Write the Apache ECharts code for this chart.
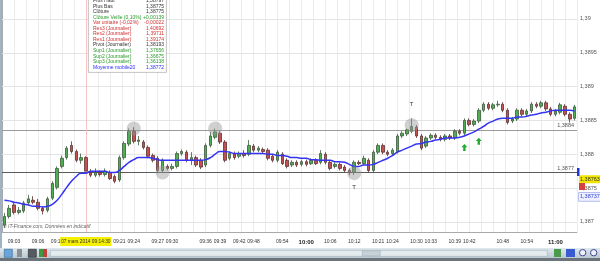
<!DOCTYPE html>
<html><head><meta charset="utf-8">
<script src="https://cdn.jsdelivr.net/npm/echarts@6/dist/echarts.min.js"></script>
<style>html,body{margin:0;padding:0;background:#fff;overflow:hidden}#c{width:600px;height:261px}</style>
</head><body><div id="c"></div><script>
const openP = [1.38695,1.38708,1.38725,1.38714,1.38716,1.38728,1.38732,1.38729,1.38720,1.38717,
1.38735,1.38751,1.38782,1.38795,1.38813,1.38804,1.38791,1.38795,1.38773,1.38769,
1.38773,1.38770,1.38773,1.38767,1.38762,1.38795,1.38815,1.38834,1.38819,1.38818,
1.38810,1.38798,1.38794,1.38776,1.38782,1.38779,1.38782,1.38801,1.38803,1.38791,
1.38795,1.38791,1.38784,1.38813,1.38825,1.38831,1.38818,1.38794,1.38801,1.38797,
1.38801,1.38800,1.38812,1.38806,1.38807,1.38806,1.38797,1.38791,1.38800,1.38791,
1.38784,1.38788,1.38785,1.38789,1.38786,1.38791,1.38788,1.38800,1.38788,1.38782,
1.38785,1.38781,1.38776,1.38773,1.38788,1.38786,1.38791,1.38776,1.38803,1.38813,
1.38803,1.38801,1.38804,1.38827,1.38830,1.38834,1.38840,1.38827,1.38812,1.38824,
1.38828,1.38825,1.38822,1.38827,1.38824,1.38834,1.38831,1.38850,1.38844,1.38849,
1.38865,1.38874,1.38868,1.38873,1.38874,1.38865,1.38849,1.38852,1.38865,1.38859,
1.38864,1.38874,1.38871,1.38876,1.38867,1.38859,1.38862,1.38871,1.38859,1.38853];
const closeP = [1.38708,1.38720,1.38714,1.38717,1.38728,1.38734,1.38729,1.38720,1.38716,1.38734,
1.38757,1.38779,1.38794,1.38809,1.38804,1.38791,1.38795,1.38775,1.38769,1.38773,
1.38770,1.38775,1.38764,1.38760,1.38795,1.38816,1.38834,1.38819,1.38821,1.38810,
1.38797,1.38791,1.38776,1.38791,1.38779,1.38782,1.38801,1.38804,1.38791,1.38795,
1.38784,1.38781,1.38813,1.38827,1.38833,1.38818,1.38791,1.38801,1.38795,1.38801,
1.38798,1.38813,1.38806,1.38809,1.38804,1.38794,1.38791,1.38803,1.38786,1.38782,
1.38788,1.38784,1.38789,1.38785,1.38791,1.38786,1.38801,1.38788,1.38779,1.38785,
1.38779,1.38776,1.38773,1.38788,1.38786,1.38794,1.38776,1.38803,1.38813,1.38803,
1.38800,1.38806,1.38827,1.38831,1.38836,1.38841,1.38827,1.38809,1.38824,1.38828,
1.38825,1.38822,1.38827,1.38824,1.38834,1.38831,1.38850,1.38844,1.38849,1.38865,
1.38874,1.38868,1.38873,1.38874,1.38865,1.38847,1.38852,1.38865,1.38859,1.38864,
1.38874,1.38871,1.38876,1.38867,1.38859,1.38864,1.38873,1.38859,1.38852,1.38870];
const lowP = [1.38691,1.38705,1.38711,1.38711,1.38713,1.38725,1.38726,1.38717,1.38711,1.38714,
1.38732,1.38748,1.38779,1.38792,1.38801,1.38788,1.38786,1.38775,1.38766,1.38766,
1.38767,1.38767,1.38762,1.38757,1.38759,1.38792,1.38812,1.38816,1.38813,1.38807,
1.38794,1.38788,1.38772,1.38773,1.38776,1.38776,1.38779,1.38798,1.38788,1.38784,
1.38781,1.38778,1.38781,1.38810,1.38822,1.38815,1.38788,1.38791,1.38792,1.38794,
1.38795,1.38797,1.38803,1.38803,1.38801,1.38791,1.38788,1.38788,1.38784,1.38779,
1.38781,1.38781,1.38782,1.38782,1.38784,1.38784,1.38785,1.38785,1.38776,1.38779,
1.38776,1.38773,1.38769,1.38769,1.38784,1.38784,1.38773,1.38773,1.38800,1.38800,
1.38797,1.38798,1.38801,1.38824,1.38827,1.38831,1.38824,1.38806,1.38809,1.38821,
1.38822,1.38819,1.38819,1.38821,1.38821,1.38828,1.38828,1.38841,1.38841,1.38846,
1.38862,1.38865,1.38865,1.38870,1.38862,1.38844,1.38846,1.38849,1.38856,1.38856,
1.38861,1.38868,1.38868,1.38864,1.38856,1.38856,1.38859,1.38856,1.38847,1.38850];
const highP = [1.38713,1.38725,1.38728,1.38722,1.38731,1.38740,1.38738,1.38734,1.38723,1.38737,
1.38760,1.38782,1.38798,1.38812,1.38819,1.38807,1.38801,1.38797,1.38778,1.38779,
1.38776,1.38779,1.38776,1.38770,1.38798,1.38819,1.38838,1.38840,1.38827,1.38821,
1.38813,1.38801,1.38797,1.38794,1.38785,1.38786,1.38804,1.38807,1.38806,1.38803,
1.38798,1.38794,1.38816,1.38833,1.38838,1.38834,1.38821,1.38804,1.38804,1.38804,
1.38806,1.38821,1.38815,1.38812,1.38810,1.38809,1.38800,1.38806,1.38803,1.38794,
1.38791,1.38791,1.38792,1.38792,1.38794,1.38794,1.38806,1.38803,1.38791,1.38788,
1.38788,1.38784,1.38779,1.38791,1.38791,1.38798,1.38794,1.38806,1.38816,1.38816,
1.38806,1.38809,1.38830,1.38834,1.38838,1.38853,1.38843,1.38830,1.38827,1.38831,
1.38831,1.38828,1.38830,1.38830,1.38837,1.38837,1.38853,1.38853,1.38852,1.38868,
1.38877,1.38877,1.38876,1.38879,1.38877,1.38868,1.38855,1.38868,1.38868,1.38867,
1.38877,1.38877,1.38879,1.38879,1.38870,1.38867,1.38876,1.38874,1.38862,1.38873];
const ma20 = [1.38732,1.38731,1.38729,1.38728,1.38726,1.38725,1.38723,1.38723,1.38722,1.38723,
1.38726,1.38732,1.38741,1.38751,1.38760,1.38767,1.38772,1.38772,1.38775,1.38775,
1.38775,1.38775,1.38773,1.38773,1.38776,1.38782,1.38788,1.38792,1.38795,1.38795,
1.38795,1.38794,1.38792,1.38791,1.38791,1.38791,1.38791,1.38791,1.38791,1.38791,
1.38791,1.38791,1.38792,1.38795,1.38800,1.38804,1.38804,1.38803,1.38801,1.38801,
1.38801,1.38801,1.38801,1.38801,1.38801,1.38800,1.38800,1.38798,1.38798,1.38797,
1.38795,1.38795,1.38794,1.38794,1.38792,1.38792,1.38791,1.38791,1.38791,1.38789,
1.38789,1.38788,1.38785,1.38782,1.38782,1.38784,1.38784,1.38785,1.38788,1.38791,
1.38794,1.38798,1.38803,1.38806,1.38809,1.38812,1.38815,1.38816,1.38818,1.38819,
1.38821,1.38822,1.38824,1.38824,1.38824,1.38825,1.38827,1.38830,1.38833,1.38837,
1.38841,1.38846,1.38849,1.38852,1.38853,1.38853,1.38853,1.38855,1.38855,1.38856,
1.38858,1.38859,1.38861,1.38862,1.38864,1.38865,1.38865,1.38865,1.38865,1.38864];

const tickIdx  = [2,7,11,24,27,32,35,42,45,49,52,58,63,68,73,78,81,86,89,94,97,104,109,115];
const tickText = ['09:03','09:06','09:12','09:21','09:24','09:27','09:30','09:36','09:39','09:42','09:48','09:54','10:00','10:06','10:12','10:21','10:24','10:30','10:33','10:39','10:42','10:48','10:54','11:00'];
const boldTicks = ['10:00','11:00'];

const yTickValues = [1.387,1.3875,1.388,1.3885,1.389,1.3895,1.39];
const yTickText   = ['1,387','1,3875','1,388','1,3885','1,389','1,3895','1,39'];

const levelValues = [1.38836,1.38773];
const levelText   = ['1,3884','1,3877'];
const levelColors = ['#9a9a9a','#5a5a5a'];

const tagValues = [1.38763,1.38737];
const tagText   = ['1,38763','1,38737'];

const cursorIdx = 17;
const cursorText = '07 mars 2014 09:14:30';

const circleIdx = [27,44,33,73,85];
const circleVal = [1.38838,1.38838,1.38773,1.38772,1.38843];
const tIdx = [85,73];
const tVal = [1.38873,1.38751];
const arrowIdx = [96,99];
const arrowVal = [1.38810,1.38819];

const legendLabels = ['Plus Haut','Plus Bas','Clôture','Clôture Veille (0,10%)','Var unitaire (-0,02%)','Res3 (Journalier)','Res2 (Journalier)','Res1 (Journalier)','Pivot (Journalier)','Sup1 (Journalier)','Sup2 (Journalier)','Sup3 (Journalier)','Moyenne mobile20'];
const legendValues = ['1,38797','1,38775','1,38775','+0,00139','-0,00022','1,40692','1,39711','1,39174','1,38193','1,37656','1,36675','1,36138','1,38772'];
const legendColors = ['#333','#333','#333','#2a9a2a','#d03030','#d03030','#d03030','#d03030','#333','#2a9a2a','#2a9a2a','#2a9a2a','#2a2aff'];

const FONT = 'Liberation Sans';
const categories = openP.map((_, i) => String(i));
const candles = openP.map((o, i) => [o, closeP[i], lowP[i], highP[i]]);

const markLineData = [];
yTickValues.forEach((v, i) => markLineData.push({
  yAxis: v, lineStyle: {color: '#e4e4e4', width: 1, type: 'solid'},
  label: {show: true, position: 'end', distance: 3, formatter: yTickText[i], color: '#555', fontSize: 5.5, fontFamily: FONT}
}));
levelValues.forEach((v, i) => markLineData.push({
  yAxis: v, lineStyle: {color: levelColors[i], width: 1.2, type: 'solid'},
  label: {show: true, position: 'insideEndTop', distance: [3, 1], formatter: levelText[i], color: '#555', fontSize: 5.5, fontFamily: FONT}
}));
markLineData.push({
  yAxis: tagValues[0], lineStyle: {color: 'rgba(0,0,0,0)', width: 1},
  label: {show: true, position: 'end', distance: 2, formatter: tagText[0], color: '#333', fontSize: 5.5, fontFamily: FONT, backgroundColor: '#f2e600', padding: [1, 1]}
});
markLineData.push({
  yAxis: tagValues[1], lineStyle: {color: 'rgba(0,0,0,0)', width: 1},
  label: {show: true, position: 'end', distance: 2, formatter: tagText[1], color: '#3344cc', fontSize: 5.5, fontFamily: FONT, backgroundColor: '#eef0ff', borderColor: '#8899ee', borderWidth: 0.6, padding: [1, 1]}
});
markLineData.push({
  xAxis: cursorIdx, lineStyle: {color: '#f6c4c4', width: 1, type: 'solid'},
  label: {show: true, position: 'start', distance: 5, formatter: cursorText, color: '#333', fontSize: 4.8, fontFamily: FONT, backgroundColor: '#f4f000', padding: [2, 1]}
});

const markPointData = [];
circleIdx.forEach((ix, i) => markPointData.push({
  coord: [ix, circleVal[i]], symbol: 'circle', symbolSize: 14,
  itemStyle: {color: 'rgba(150,150,150,0.45)'}, label: {show: false}
}));
tIdx.forEach((ix, i) => markPointData.push({
  coord: [ix, tVal[i]], symbol: 'circle', symbolSize: 1, itemStyle: {color: 'rgba(0,0,0,0)'},
  label: {show: true, formatter: 'T', position: 'inside', color: '#333', fontSize: 6, fontFamily: FONT}
}));
arrowIdx.forEach((ix, i) => markPointData.push({
  coord: [ix, arrowVal[i]], symbol: 'path://M5,0 L10,5 L7,5 L7,11 L3,11 L3,5 L0,5 Z', symbolSize: [6, 7],
  itemStyle: {color: '#22aa33'}, label: {show: false}
}));

const legendGraphic = [];
legendLabels.forEach((t, i) => {
  const y = 0.8 + 5.55 * i;
  legendGraphic.push({type: 'text', left: 93, top: y - 2.6, z: 101,
    style: {text: t, fill: legendColors[i], font: '5px "' + FONT + '"'}});
  legendGraphic.push({type: 'text', right: 600 - 164, top: y - 2.6, z: 101,
    style: {text: legendValues[i], fill: legendColors[i], font: '5px "' + FONT + '"', textAlign: 'right'}});
});

const chart = echarts.init(document.getElementById('c'), null, {renderer: 'canvas'});
chart.setOption({
  animation: false,
  backgroundColor: '#fff',
  grid: {left: 2, right: 23, top: 0, bottom: 29},
  xAxis: [{
    type: 'category', data: categories, boundaryGap: true,
    axisLine: {show: true, lineStyle: {color: '#aaa'}},
    axisTick: {show: false},
    splitLine: {show: false},
    axisLabel: {
      interval: (idx) => tickIdx.includes(idx),
      margin: 7, fontSize: 5, fontFamily: FONT, color: '#333',
      formatter: (v) => {
        const k = tickIdx.indexOf(Number(v));
        if (k < 0) return '';
        const t = tickText[k];
        return boldTicks.includes(t) ? '{b|' + t + '}' : t;
      },
      rich: {b: {fontWeight: 'bold', fontSize: 6, fontFamily: FONT, color: '#222'}}
    }
  }, {
    type: 'value', min: 0, max: 120, interval: 2.5, position: 'bottom',
    axisLine: {show: false}, axisTick: {show: false}, axisLabel: {show: false},
    splitLine: {show: true, lineStyle: {color: '#ececec', width: 1}}
  }],
  yAxis: {
    type: 'value', position: 'right', min: 1.38685, max: 1.39028, scale: true,
    axisLine: {show: true, lineStyle: {color: '#aaa'}},
    axisTick: {show: false}, axisLabel: {show: false}, splitLine: {show: false}
  },
  series: [{
    type: 'candlestick', data: candles, xAxisIndex: 0, barWidth: 3,
    itemStyle: {color: '#4fae4f', color0: '#c45050', borderColor: '#3d5a3d', borderColor0: '#5a3434', borderWidth: 0.8},
    markPoint: {silent: true, animation: false, precision: 6, data: markPointData},
    z: 3
  }, {
    type: 'line', data: ma20, xAxisIndex: 0, smooth: true, symbol: 'none',
    lineStyle: {color: '#3434f4', width: 1.5}, z: 4,
    markLine: {silent: true, symbol: 'none', animation: false, precision: 6, data: markLineData, z: 2}
  }],
  graphic: [
    {type: 'rect', left: 0, top: 0, shape: {width: 2, height: 248}, style: {fill: '#9fb3c3'}, z: 100},
    {type: 'rect', left: 577, top: 168, shape: {width: 2.5, height: 8}, style: {fill: '#2233ee'}, z: 100},
    {type: 'rect', left: 579, top: 183, shape: {width: 6, height: 7}, style: {fill: '#d84040'}, z: 100},
    {type: 'text', left: 3, top: 224.5, z: 100, style: {text: '© IT-Finance.com, Données en indicatif', fill: '#666', font: 'italic 5px "' + FONT + '"'}},
    {type: 'rect', left: 88, top: -1, shape: {width: 78, height: 73}, style: {fill: 'rgba(255,255,255,0.96)', stroke: '#b5b5b5', lineWidth: 0.8}, z: 100},
    ...legendGraphic,
    {type: 'rect', left: 0, top: 248, shape: {width: 600, height: 10},
      style: {fill: new echarts.graphic.LinearGradient(0, 0, 0, 1, [{offset: 0, color: '#dfe8ee'}, {offset: 1, color: '#b9c8d2'}])}, z: 100},
    {type: 'rect', left: 0, top: 258, shape: {width: 600, height: 3}, style: {fill: '#6b747b'}, z: 100},
    {type: 'rect', left: 50, top: 250, shape: {width: 497, height: 6}, style: {fill: '#e4ebef', stroke: '#9fb0bb', lineWidth: 0.6}, z: 101},
    {type: 'rect', left: 362, top: 250.5, shape: {width: 18, height: 5}, style: {fill: '#c6d2da', stroke: '#98a8b3', lineWidth: 0.5}, z: 102},
    {type: 'rect', left: 4, top: 249, shape: {width: 8, height: 8}, style: {fill: '#6aa4d8', stroke: '#2f6a9a', lineWidth: 0.6}, z: 102},
    {type: 'rect', left: 17, top: 249, shape: {width: 5, height: 8}, style: {fill: '#8a8f94'}, z: 102},
    {type: 'rect', left: 28, top: 249, shape: {width: 8, height: 8}, style: {fill: '#555b60', stroke: '#222', lineWidth: 0.6}, z: 102},
    {type: 'rect', left: 39, top: 249, shape: {width: 4, height: 8}, style: {fill: '#3c9a3c'}, z: 102},
    {type: 'rect', left: 43, top: 249, shape: {width: 4, height: 8}, style: {fill: '#c04040'}, z: 102},
    {type: 'rect', left: 554, top: 249, shape: {width: 7, height: 8}, style: {fill: '#4a9a4a'}, z: 102},
    {type: 'rect', left: 566, top: 249, shape: {width: 9, height: 8}, style: {fill: '#3a5ad0'}, z: 102},
    {type: 'circle', left: 579, top: 249, shape: {r: 3.2}, style: {fill: '#eef', stroke: '#3a4a8a', lineWidth: 1}, z: 102},
    {type: 'circle', left: 590, top: 249, shape: {r: 3.2}, style: {fill: '#eef', stroke: '#3a4a8a', lineWidth: 1}, z: 102}
  ]
});
</script></body></html>
